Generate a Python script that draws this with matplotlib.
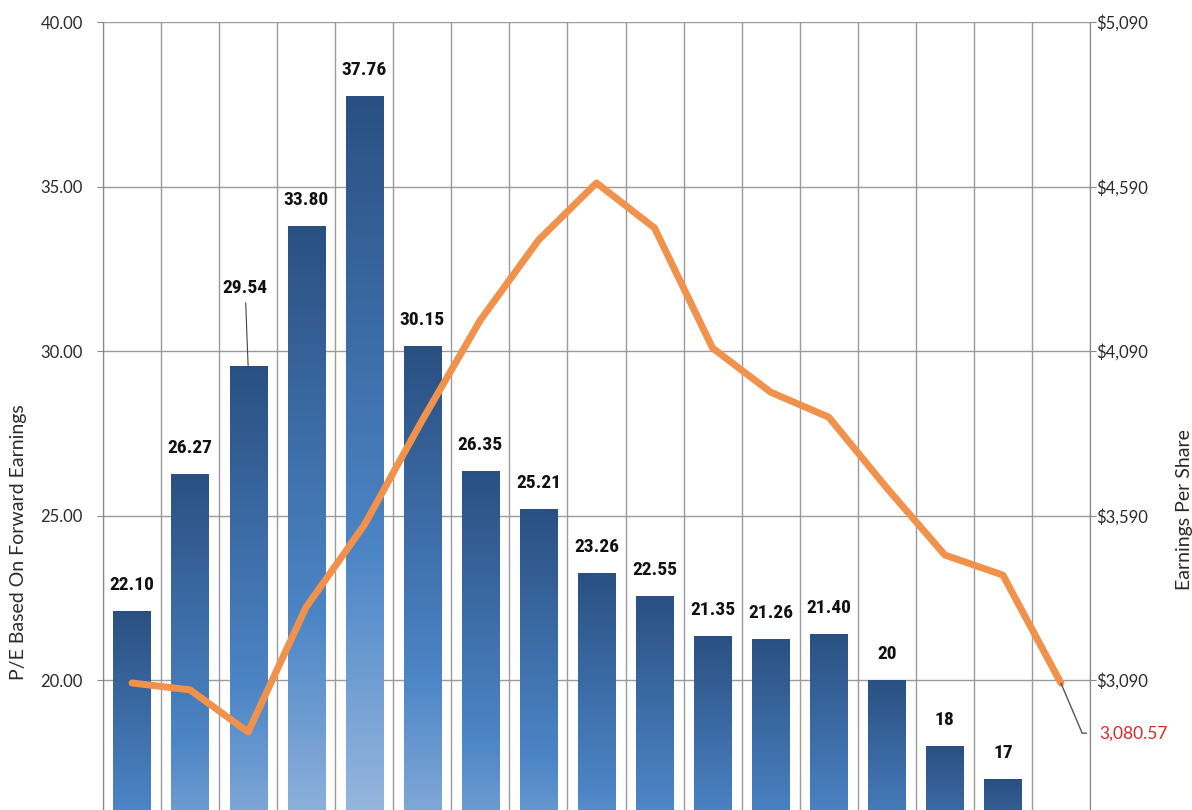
import matplotlib
matplotlib.use("Agg")
import matplotlib.pyplot as plt
import numpy as np
from matplotlib import font_manager
from matplotlib.colors import LinearSegmentedColormap
from matplotlib.ticker import FuncFormatter

# data (x axis is cropped in the source picture)
pe_values = [22.10, 26.27, 29.54, 33.80, 37.76, 30.15, 26.35, 25.21, 23.26,
             22.55, 21.35, 21.26, 21.40, 20, 18, 17]
pe_labels = ["22.10", "26.27", "29.54", "33.80", "37.76", "30.15", "26.35", "25.21",
             "23.26", "22.55", "21.35", "21.26", "21.40", "20", "18", "17"]
eps_values = [3081, 3060, 2932, 3312, 3561, 3880, 4184, 4427, 4601, 4464,
              4099, 3965, 3889, 3674, 3470, 3409, 3080.57]
n_slots = 17

pe_ticks = [20, 25, 30, 35, 40]
eps_ticks = [3090, 3590, 4090, 4590, 5090]

plt.rcParams['font.family'] = ['Lato', 'DejaVu Sans']

# narrow bold face for the value labels, if one is around
installed = {f.name for f in font_manager.fontManager.ttflist}
narrow = [n for n in ['Liberation Sans Narrow', 'DejaVu Sans Condensed',
                      'Roboto Condensed', 'Roboto'] if n in installed]
label_font = (narrow[:1] or ['DejaVu Sans']) + ['DejaVu Sans']

fig = plt.figure(figsize=(11.92, 8.10), dpi=100)
ax = fig.add_axes([0.0864, 0.0, 0.828, 0.9728])
ax2 = ax.twinx()

x = np.arange(len(pe_values))
bars = ax.bar(x, pe_values, width=0.64, color='none', edgecolor='none', zorder=2)

# vertical gradient inside each bar: dark at the top, light further down
cmap = LinearSegmentedColormap.from_list('bargrad', ['#2a5082', '#4c85c6', '#cddcf0'])
grad = np.linspace(0, 1, 256).reshape(-1, 1)
base = 10
for rect in bars:
    x0 = rect.get_x()
    top = rect.get_height()
    im = ax.imshow(grad, extent=[x0, x0 + rect.get_width(), base, top],
                   aspect='auto', cmap=cmap, origin='upper', zorder=2)
    im.set_clip_path(rect)

# value labels
for i, (v, s) in enumerate(zip(pe_values, pe_labels)):
    if s == "29.54":
        ax.annotate(s, xy=(i, v), xytext=(-3, 78), textcoords='offset pixels',
                    ha='center', va='center', fontsize=14, fontweight='bold',
                    family=label_font, color='#111',
                    arrowprops=dict(arrowstyle='-', color='#444', lw=0.8,
                                    shrinkA=2, shrinkB=0), zorder=5)
    else:
        ax.annotate(s, xy=(i, v), xytext=(0, 26), textcoords='offset pixels',
                    ha='center', va='center', fontsize=14, fontweight='bold',
                    family=label_font, color='#111', zorder=5)

ax.set_xlim(-0.5, n_slots - 0.5)
ax.set_ylim(16.05, 40)
ax.set_yticks(pe_ticks)
ax.yaxis.set_major_formatter(FuncFormatter(lambda v, p: f"{v:.2f}"))
ax.set_xticks([])
ax.set_xticks(np.arange(-0.5, n_slots, 1), minor=True)
ax.tick_params(axis='x', which='both', length=0, labelbottom=False)
ax.tick_params(axis='y', direction='out', length=4.5, color='#888',
               labelsize=12, labelcolor='#2a2a2a', pad=10)
ax.grid(axis='x', which='minor', color='#9a9a9a', lw=1)
ax.grid(axis='y', which='major', color='#9a9a9a', lw=1)
ax.set_axisbelow(True)

# earnings per share line
ax2.plot(np.arange(len(eps_values)), eps_values, color='#f0924c', lw=5,
         solid_capstyle='round', solid_joinstyle='round', zorder=3)
ax2.set_ylim(2695, 5090)
ax2.set_yticks(eps_ticks)
ax2.yaxis.set_major_formatter(FuncFormatter(lambda v, p: f"${v:,.0f}"))
ax2.tick_params(axis='y', direction='out', length=4.5, color='#888',
                labelsize=12, labelcolor='#2a2a2a', pad=0)
ax2.annotate(f"{eps_values[-1]:,.2f}", xy=(len(eps_values) - 1, eps_values[-1]),
             xytext=(38, -50), textcoords='offset pixels', ha='left', va='center',
             fontsize=12.5, color='#d62a2e', annotation_clip=False,
             arrowprops=dict(arrowstyle='-', color='#555', lw=1,
                             connectionstyle='angle,angleA=0,angleB=-67,rad=0',
                             relpos=(0, 0.5), shrinkA=7, shrinkB=0))

for a in (ax, ax2):
    a.spines['top'].set_visible(False)
    a.spines['bottom'].set_visible(False)
    a.spines['left'].set_color('#888')
    a.spines['right'].set_color('#888')

ax.set_ylabel('P/E Based On Forward Earnings', fontsize=14, color='#2a2a2a')
ax.yaxis.set_label_coords(-0.077, 0.34)
ax2.set_ylabel('Earnings Per Share', fontsize=14, color='#2a2a2a')
ax2.yaxis.set_label_coords(1.087, 0.381)

fig.savefig('out.png', dpi=100)
